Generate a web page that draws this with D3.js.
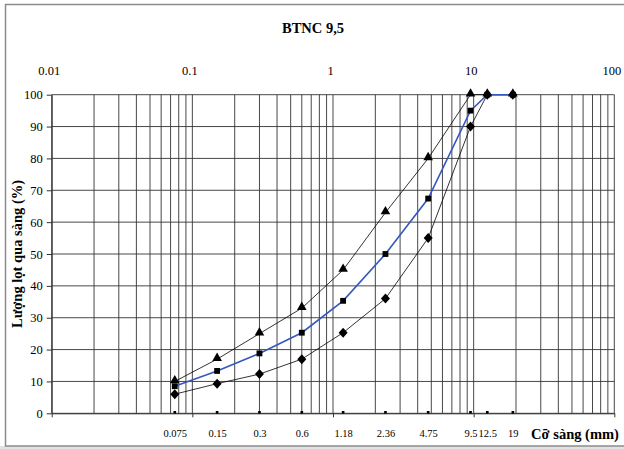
<!DOCTYPE html>
<html>
<head>
<meta charset="utf-8">
<script src="https://cdn.jsdelivr.net/npm/d3@7"></script>
<style>
  html, body { margin: 0; padding: 0; background: #fff; }
  svg { display: block; }
  svg text { font-family: "Liberation Serif", "DejaVu Serif", serif !important; fill: #000; }
</style>
</head>
<body>
<svg id="chart" width="624" height="449"></svg>
<script>
// ---- data ----
const sieves = [0.075, 0.15, 0.3, 0.6, 1.18, 2.36, 4.75, 9.5, 12.5, 19];
const sieveLabels = ["0.075", "0.15", "0.3", "0.6", "1.18", "2.36", "4.75", "9.5", "12.5", "19"];
const upperLimit = [10, 17, 25, 33, 45, 63, 80, 100, 100, 100];
const mixValues = [8.5, 13.3, 18.8, 25.3, 35.3, 50, 67.4, 95, 100, 100];
const lowerLimit = [6, 9.3, 12.3, 17, 25.3, 36, 55, 90, 100, 100];
const baseSeries = [0, 0, 0, 0, 0, 0, 0, 0, 0, 0];
const topTicks = [0.01, 0.1, 1, 10, 100];
const topTickLabels = ["0.01", "0.1", "1", "10", "100"];
const yTicks = [0, 10, 20, 30, 40, 50, 60, 70, 80, 90, 100];
const title = "BTNC 9,5";
const yTitle = "Lượng lọt qua sàng  (%)";
const xTitle = "Cỡ sàng (mm)";

const svg = d3.select("#chart");

// chart area border
svg.append("rect").attr("x", 0).attr("y", 446).attr("width", 624).attr("height", 3).attr("fill", "#e2e2e2");
svg.append("rect").attr("x", 5.5).attr("y", 4.5).attr("width", 640).attr("height", 441.5)
  .attr("fill", "none").attr("stroke", "#8c8c8c").attr("stroke-width", 1.5);

const x = d3.scaleLog().domain([0.01, 100]).range([51.7, 614.3]);
const y = d3.scaleLinear().domain([0, 100]).range([413.3, 94.7]);

// gridlines
const vGrid = [];
[0.01, 0.1, 1, 10].forEach(d => { for (let k = 1; k <= 9; k++) vGrid.push(d * k); });
vGrid.push(100);
const g = svg.append("g");
g.selectAll("line.v").data(vGrid).join("line")
  .attr("x1", d => x(d)).attr("x2", d => x(d))
  .attr("y1", y(0)).attr("y2", y(100))
  .attr("stroke", "#333").attr("stroke-width", 0.9);
g.selectAll("line.h").data(yTicks).join("line")
  .attr("x1", x(0.01)).attr("x2", x(100))
  .attr("y1", d => y(d)).attr("y2", d => y(d))
  .attr("stroke", "#333").attr("stroke-width", 0.9);

const serif = '"Liberation Serif", "DejaVu Serif", serif';

// y axis
const yAxis = svg.append("g").attr("transform", `translate(${x(0.01)},0)`)
  .call(d3.axisLeft(y).tickValues(yTicks).tickSize(5).tickSizeOuter(0).tickPadding(4))
  .attr("font-family", serif).attr("font-size", 12.5);
yAxis.select(".domain").attr("stroke", "#333");
yAxis.selectAll(".tick line").attr("stroke", "#333");

// bottom axis (decade ticks)
const xAxis = svg.append("g").attr("transform", `translate(0,${y(0)})`)
  .call(d3.axisBottom(x).tickValues(topTicks).tickSize(4).tickSizeOuter(0).tickFormat(""));
xAxis.select(".domain").attr("stroke", "#333");
xAxis.selectAll(".tick line").attr("stroke", "#333");

// sieve labels
const sAxis = svg.append("g").attr("transform", `translate(0,${y(0) + 13})`)
  .call(d3.axisBottom(x).tickValues(sieves).tickSize(0).tickFormat((d, i) => sieveLabels[i]))
  .attr("font-family", serif).attr("font-size", 10.5);
sAxis.select(".domain").remove();

// top axis labels
const tAxis = svg.append("g").attr("transform", `translate(-3,78)`)
  .call(d3.axisTop(x).tickValues(topTicks).tickSize(0).tickFormat((d, i) => topTickLabels[i]))
  .attr("font-family", serif).attr("font-size", 12.5);
tAxis.select(".domain").remove();

// lines
const line = d3.line().x((d, i) => x(sieves[i])).y(d => y(d));
svg.append("path").datum(upperLimit).attr("d", line).attr("fill", "none").attr("stroke", "#000").attr("stroke-width", 0.8);
svg.append("path").datum(lowerLimit).attr("d", line).attr("fill", "none").attr("stroke", "#000").attr("stroke-width", 0.8);
svg.append("path").datum(mixValues).attr("d", line).attr("fill", "none").attr("stroke", "#3557c0").attr("stroke-width", 1.6);

// markers
const sym = (type, size) => d3.symbol().type(type).size(size)();
const diamondPath = "M0,-5L4.5,0L0,5L-4.5,0Z";
svg.append("g").selectAll("path").data(upperLimit).join("path")
  .attr("transform", (d, i) => `translate(${x(sieves[i])},${y(d) - 1})`)
  .attr("d", sym(d3.symbolTriangle, 40)).attr("fill", "#000");
svg.append("g").selectAll("path").data(lowerLimit).join("path")
  .attr("transform", (d, i) => `translate(${x(sieves[i])},${y(d)})`)
  .attr("d", diamondPath).attr("fill", "#000");
svg.append("g").selectAll("path").data(mixValues).join("path")
  .attr("transform", (d, i) => `translate(${x(sieves[i])},${y(d)})`)
  .attr("d", sym(d3.symbolSquare, 34)).attr("fill", "#000");
svg.append("g").selectAll("path").data(baseSeries).join("path")
  .attr("transform", (d, i) => `translate(${x(sieves[i])},${y(d) - 1})`)
  .attr("d", sym(d3.symbolSquare, 7)).attr("fill", "#000");

// titles
svg.append("text").attr("x", 313).attr("y", 33).attr("text-anchor", "middle")
  .attr("font-size", 14.5).attr("font-weight", "bold").text(title);
svg.append("text").attr("transform", `translate(22,254) rotate(-90)`).attr("text-anchor", "middle")
  .attr("font-size", 14.5).attr("font-weight", "bold").text(yTitle);
svg.append("text").attr("x", 575).attr("y", 439).attr("text-anchor", "middle")
  .attr("font-size", 14.5).attr("font-weight", "bold").text(xTitle);
</script>
</body>
</html>
